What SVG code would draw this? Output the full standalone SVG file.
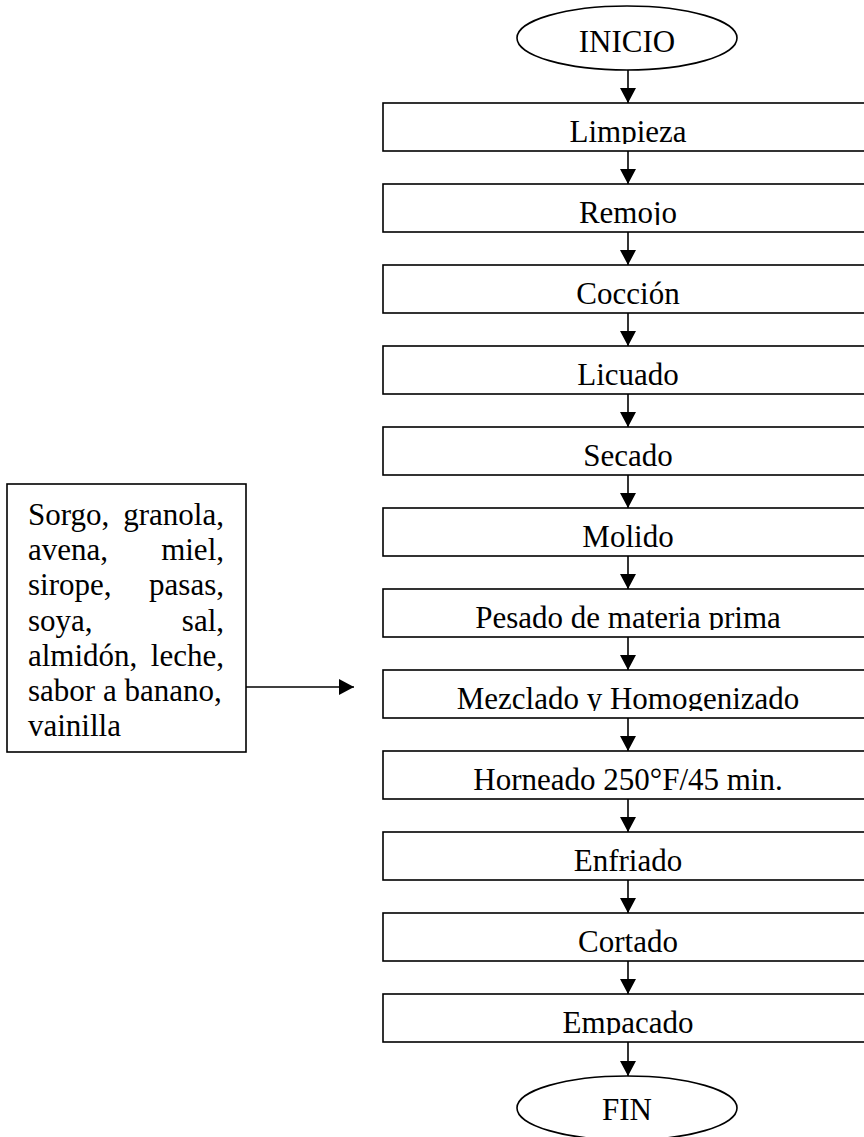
<svg xmlns="http://www.w3.org/2000/svg" width="864" height="1137" viewBox="0 0 864 1137">
<style>
.s{fill:#fff;stroke:#000;stroke-width:1.6}
.t{font-family:"Liberation Serif","Times New Roman",serif;font-size:31px;fill:#000}
.c{text-anchor:middle}
.e{text-anchor:end}
.l{stroke:#000;stroke-width:1.6;fill:none}
</style>
<defs>
<marker id="ah" markerUnits="userSpaceOnUse" markerWidth="15" markerHeight="16" refX="15" refY="8" orient="auto">
<path d="M0,0 L15,8 L0,16 z" fill="#000"/>
</marker>
<clipPath id="c0"><rect x="380" y="100" width="490" height="44"/></clipPath>
<clipPath id="c1"><rect x="380" y="181" width="490" height="44"/></clipPath>
<clipPath id="c2"><rect x="380" y="262" width="490" height="44"/></clipPath>
<clipPath id="c3"><rect x="380" y="343" width="490" height="44"/></clipPath>
<clipPath id="c4"><rect x="380" y="424" width="490" height="44"/></clipPath>
<clipPath id="c5"><rect x="380" y="505" width="490" height="44"/></clipPath>
<clipPath id="c6"><rect x="380" y="586" width="490" height="44"/></clipPath>
<clipPath id="c7"><rect x="380" y="667" width="490" height="44"/></clipPath>
<clipPath id="c8"><rect x="380" y="748" width="490" height="44"/></clipPath>
<clipPath id="c9"><rect x="380" y="829" width="490" height="44"/></clipPath>
<clipPath id="c10"><rect x="380" y="910" width="490" height="44"/></clipPath>
<clipPath id="c11"><rect x="380" y="991" width="490" height="44"/></clipPath>
</defs>
<g id="connectors">
<line class="l" x1="628" y1="70" x2="628" y2="103" marker-end="url(#ah)"/>
<line class="l" x1="628" y1="151" x2="628" y2="184" marker-end="url(#ah)"/>
<line class="l" x1="628" y1="232" x2="628" y2="265" marker-end="url(#ah)"/>
<line class="l" x1="628" y1="313" x2="628" y2="346" marker-end="url(#ah)"/>
<line class="l" x1="628" y1="394" x2="628" y2="427" marker-end="url(#ah)"/>
<line class="l" x1="628" y1="475" x2="628" y2="508" marker-end="url(#ah)"/>
<line class="l" x1="628" y1="556" x2="628" y2="589" marker-end="url(#ah)"/>
<line class="l" x1="628" y1="637" x2="628" y2="670" marker-end="url(#ah)"/>
<line class="l" x1="628" y1="718" x2="628" y2="751" marker-end="url(#ah)"/>
<line class="l" x1="628" y1="799" x2="628" y2="832" marker-end="url(#ah)"/>
<line class="l" x1="628" y1="880" x2="628" y2="913" marker-end="url(#ah)"/>
<line class="l" x1="628" y1="961" x2="628" y2="994" marker-end="url(#ah)"/>
<line class="l" x1="628" y1="1042" x2="628" y2="1076" marker-end="url(#ah)"/>
<line class="l" x1="246" y1="687" x2="354" y2="687" marker-end="url(#ah)"/>
</g>
<g id="inicio">
<ellipse class="s" cx="627" cy="38" rx="110" ry="32"/>
<text class="t c" x="627" y="52">INICIO</text>
</g>
<g id="limpieza"><rect class="s" x="383" y="103" width="500" height="48"/><text class="t c" x="628" y="142" clip-path="url(#c0)">Limpieza</text></g>
<g id="remojo"><rect class="s" x="383" y="184" width="500" height="48"/><text class="t c" x="628" y="223" clip-path="url(#c1)">Remojo</text></g>
<g id="coccion"><rect class="s" x="383" y="265" width="500" height="48"/><text class="t c" x="628" y="304" clip-path="url(#c2)">Cocción</text></g>
<g id="licuado"><rect class="s" x="383" y="346" width="500" height="48"/><text class="t c" x="628" y="385" clip-path="url(#c3)">Licuado</text></g>
<g id="secado"><rect class="s" x="383" y="427" width="500" height="48"/><text class="t c" x="628" y="466" clip-path="url(#c4)">Secado</text></g>
<g id="molido"><rect class="s" x="383" y="508" width="500" height="48"/><text class="t c" x="628" y="547" clip-path="url(#c5)">Molido</text></g>
<g id="pesado"><rect class="s" x="383" y="589" width="500" height="48"/><text class="t c" x="628" y="628" clip-path="url(#c6)">Pesado de materia prima</text></g>
<g id="mezclado"><rect class="s" x="383" y="670" width="500" height="48"/><text class="t c" x="628" y="709" clip-path="url(#c7)">Mezclado y Homogenizado</text></g>
<g id="horneado"><rect class="s" x="383" y="751" width="500" height="48"/><text class="t c" x="628" y="790" clip-path="url(#c8)">Horneado 250°F/45 min.</text></g>
<g id="enfriado"><rect class="s" x="383" y="832" width="500" height="48"/><text class="t c" x="628" y="871" clip-path="url(#c9)">Enfriado</text></g>
<g id="cortado"><rect class="s" x="383" y="913" width="500" height="48"/><text class="t c" x="628" y="952" clip-path="url(#c10)">Cortado</text></g>
<g id="empacado"><rect class="s" x="383" y="994" width="500" height="48"/><text class="t c" x="628" y="1033" clip-path="url(#c11)">Empacado</text></g>
<g id="fin">
<ellipse class="s" cx="627" cy="1108" rx="110" ry="32"/>
<text class="t c" x="627" y="1120">FIN</text>
</g>
<g id="ingredientes">
<rect class="s" x="7" y="484" width="239" height="268"/>
<text class="t" x="28" y="525">Sorgo,</text><text class="t e" x="224" y="525">granola,</text>
<text class="t" x="28" y="560">avena,</text><text class="t e" x="224" y="560">miel,</text>
<text class="t" x="28" y="595">sirope,</text><text class="t e" x="224" y="595">pasas,</text>
<text class="t" x="28" y="631">soya,</text><text class="t e" x="224" y="631">sal,</text>
<text class="t" x="28" y="666">almidón,</text><text class="t e" x="224" y="666">leche,</text>
<text class="t" x="28" y="701">sabor a banano,</text>
<text class="t" x="28" y="736">vainilla</text>
</g>
</svg>
